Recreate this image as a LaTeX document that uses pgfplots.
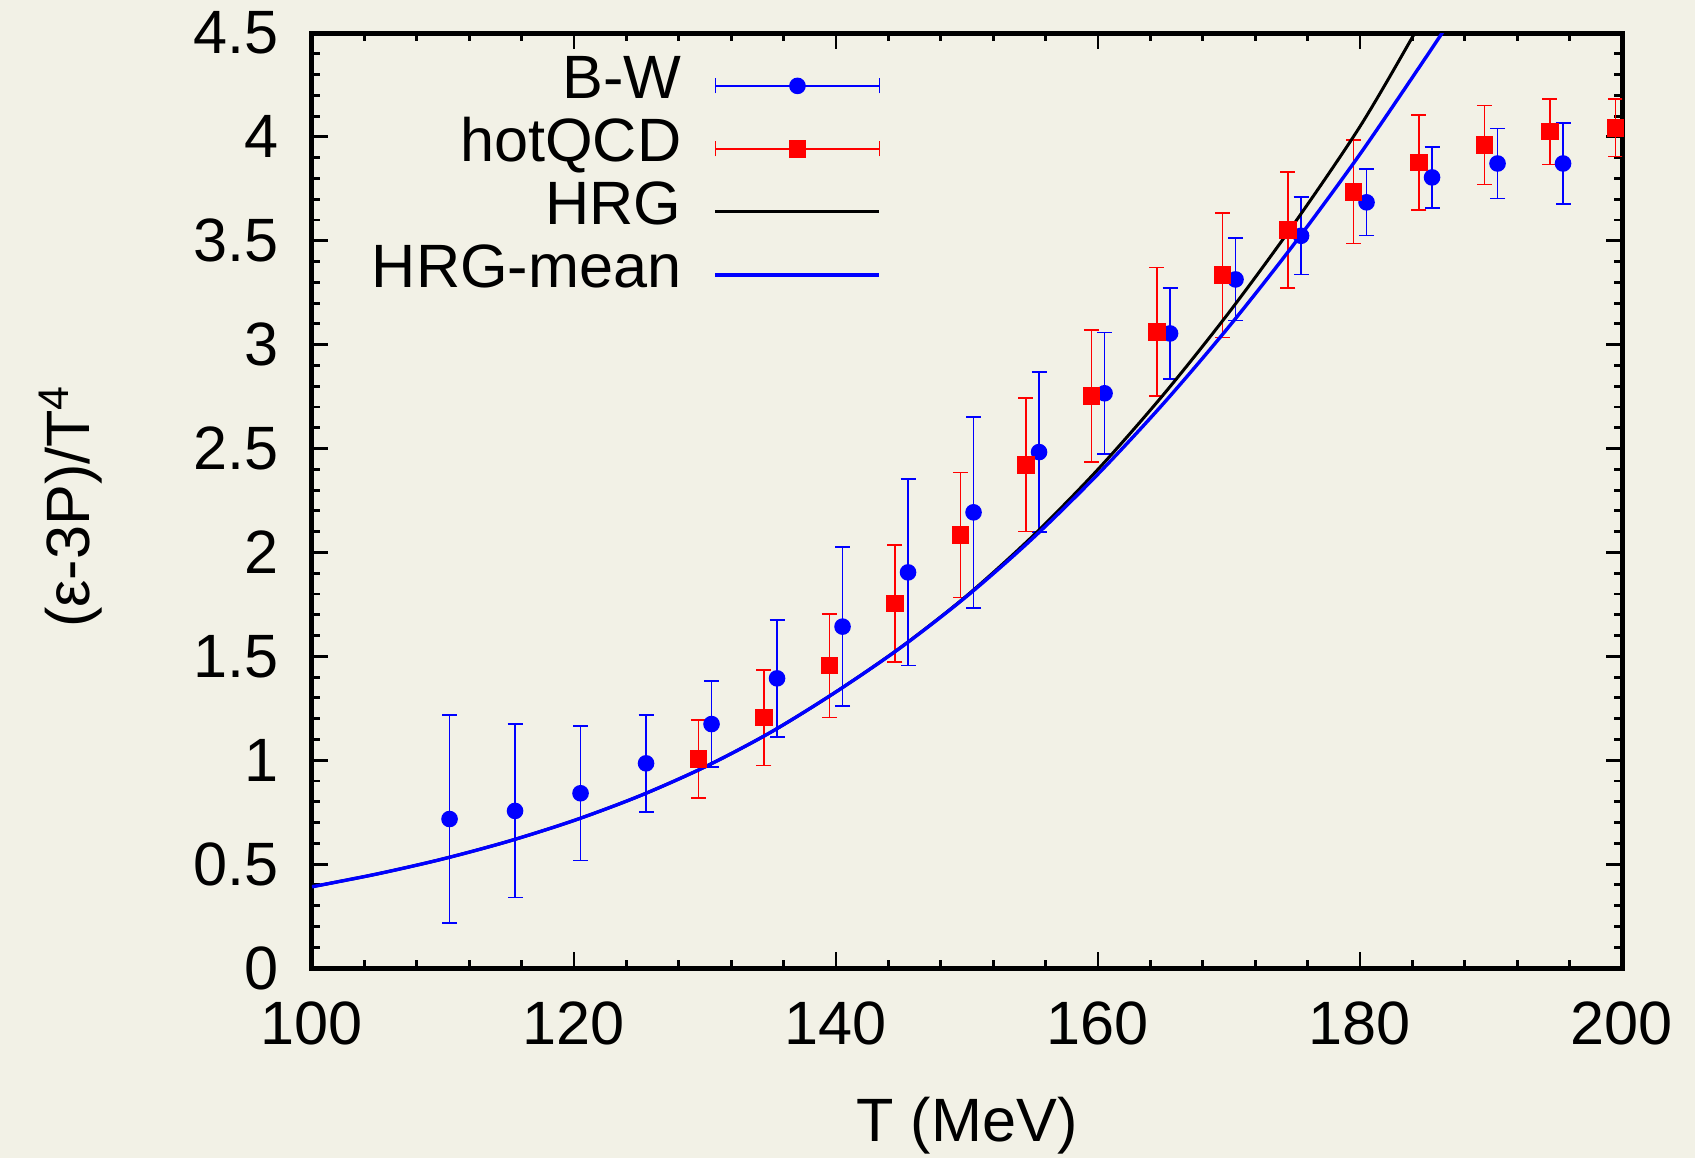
\documentclass[border=0pt]{standalone}
\usepackage{pgfplots}
\usepackage{pgfplotstable}
\pgfplotsset{compat=1.18}
\usepackage{fontspec}
\setmainfont{Liberation Sans}
\definecolor{bg}{RGB}{242,241,230}
\newcommand{\lf}{\fontsize{15.3}{18}\selectfont}

\pgfplotstableread{
T v e
110.5 0.717 0.500
115.5 0.756 0.417
120.5 0.841 0.323
125.5 0.985 0.234
130.5 1.174 0.206
135.5 1.394 0.281
140.5 1.643 0.382
145.5 1.904 0.449
150.5 2.193 0.460
155.5 2.483 0.386
160.5 2.766 0.292
165.5 3.054 0.220
170.5 3.314 0.198
175.5 3.524 0.186
180.5 3.685 0.160
185.5 3.805 0.147
190.5 3.872 0.168
195.5 3.872 0.196
}\bw

\pgfplotstableread{
T v e
129.5 1.006 0.189
134.5 1.205 0.230
139.5 1.455 0.250
144.5 1.755 0.281
149.5 2.084 0.300
154.5 2.421 0.321
159.5 2.754 0.318
164.5 3.062 0.310
169.5 3.335 0.300
174.5 3.552 0.279
179.5 3.736 0.250
184.5 3.876 0.229
189.5 3.961 0.190
194.5 4.025 0.158
199.5 4.044 0.139
}\hq

\pgfplotstableread{
T v
100 0.391
105 0.453
110 0.525
115 0.610
120 0.710
125 0.828
130 0.968
135 1.134
140 1.329
145 1.546
150 1.793
155 2.078
160 2.400
165 2.760
170 3.155
175 3.585
180 4.050
184 4.480
185 4.600
}\hrg

\pgfplotstableread{
T v
100 0.391
105 0.453
110 0.525
115 0.610
120 0.710
125 0.828
130 0.968
135 1.134
140 1.329
145 1.545
150 1.790
155 2.067
160 2.377
165 2.717
170 3.087
175 3.487
180 3.917
185 4.380
187 4.570
}\hrgm

\begin{document}
\begin{tikzpicture}
\fill[bg] (-78pt,-47.5pt) rectangle (345.75pt,242pt);
\begin{axis}[
  at={(0pt,0pt)}, anchor=south west,
  scale only axis, width=327.5pt, height=233.75pt,
  xmin=100, xmax=200, ymin=0, ymax=4.5,
  xtick={100,120,...,200}, ytick={0,0.5,...,4.5},
  minor x tick num=4, minor y tick num=4,
  tick align=inside,
  major tick length=4pt, minor tick length=2.1pt,
  tick style={line width=0.7pt, black},
  axis line style={line width=1.25pt},
  /pgf/number format/assume math mode=true,
  ticklabel style={font=\lf},
  xticklabel style={yshift=-4.9pt},
  yticklabel style={xshift=-4.9pt},
  xlabel={T (MeV)},
  xlabel style={at={(axis description cs:0.5,-0.1228)}, anchor=north, font=\lf},
  ylabel={(ε-3P)/T\textsuperscript{4}},
  ylabel style={at={(axis description cs:-0.1495,0.494)}, anchor=south, font=\lf},
  legend style={at={(0.4351,0.978)}, anchor=north east, draw=none, fill=none,
    font=\lf, inner sep=0pt, column sep=8.1pt, row sep=0pt,
    nodes={inner sep=0pt, text height=11pt, text depth=4.75pt}},
  legend cell align=right, legend plot pos=right,
]
\addplot[blue, only marks, mark=*, mark size=1.875pt,
  error bars/.cd, y dir=both, y explicit,
  error bar style={line width=0.4pt, blue},
  error mark options={rotate=90, mark size=1.875pt, line width=0.4pt, blue},
  /pgfplots/legend image code/.code={
    \draw[blue, line width=0.4pt] (0pt,0pt) -- (41pt,0pt);
    \draw[blue, line width=0.4pt] (0pt,-1.875pt) -- (0pt,1.875pt)
      (41pt,-1.875pt) -- (41pt,1.875pt);
    \fill[blue] (20.5pt,0pt) circle (1.875pt);
  },
  ]
  table[x=T, y=v, y error=e] {\bw};
\addlegendentry{B-W}
\addplot[red, only marks, mark=square*, mark size=2pt,
  error bars/.cd, y dir=both, y explicit,
  error bar style={line width=0.4pt, red},
  error mark options={rotate=90, mark size=1.875pt, line width=0.4pt, red},
  /pgfplots/legend image code/.code={
    \draw[red, line width=0.4pt] (0pt,0pt) -- (41pt,0pt);
    \draw[red, line width=0.4pt] (0pt,-1.875pt) -- (0pt,1.875pt)
      (41pt,-1.875pt) -- (41pt,1.875pt);
    \fill[red] (18.5pt,-2pt) rectangle (22.5pt,2pt);
  },
  ]
  table[x=T, y=v, y error=e] {\hq};
\addlegendentry{hotQCD}
\addplot[black, line width=0.75pt, smooth, no markers,
  legend image code/.code={\draw[black, line width=0.75pt] (0pt,0pt) -- (41pt,0pt);}]
  table[x=T, y=v] {\hrg};
\addlegendentry{HRG}
\addplot[blue, line width=0.85pt, smooth, no markers,
  legend image code/.code={\draw[blue, line width=0.85pt] (0pt,0pt) -- (41pt,0pt);}]
  table[x=T, y=v] {\hrgm};
\addlegendentry{HRG-mean}
\end{axis}
\pgfresetboundingbox
\path[use as bounding box] (-78pt,-47.5pt) rectangle (345.75pt,242pt);
\end{tikzpicture}
\end{document}
